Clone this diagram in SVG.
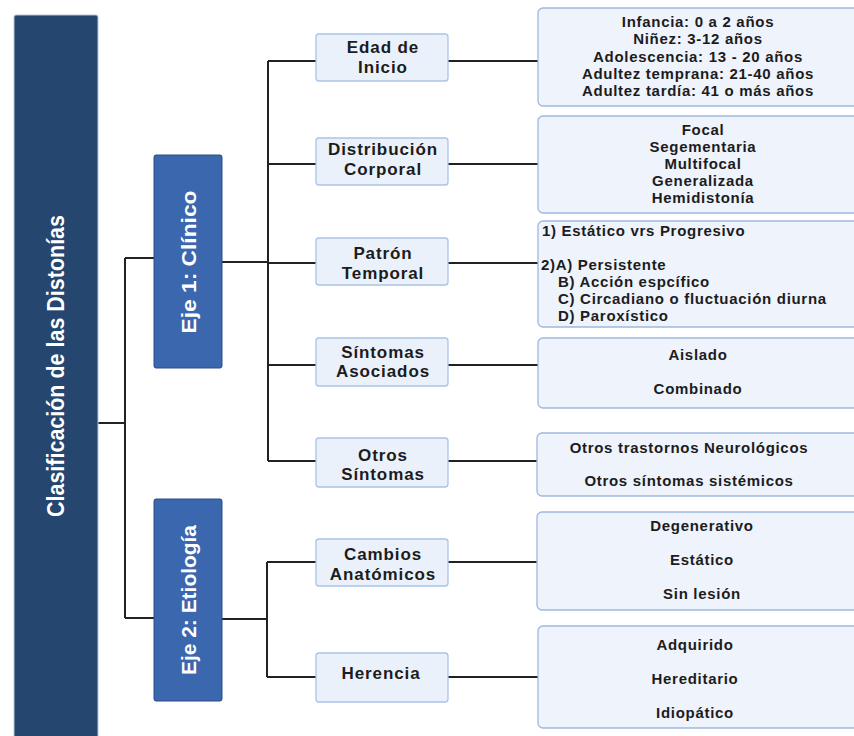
<svg xmlns="http://www.w3.org/2000/svg" width="854" height="736" viewBox="0 0 854 736">
<style>
.mid rect{fill:#EAF1FB;stroke:#A9C3E8;stroke-width:1.3}
.leaf rect{fill:#EEF3FC;stroke:#9FB8E0;stroke-width:1.3}
text{font-family:"Liberation Sans",Arial,sans-serif;font-weight:bold;fill:#1c1c1c}
.mid text{font-size:17px;letter-spacing:0.9px;text-anchor:middle}
.leaf text{font-size:15px;letter-spacing:0.7px;text-anchor:middle}
.leaf text.l{text-anchor:start}
.rot{fill:#fff;text-anchor:middle;dominant-baseline:central}
#conn path{fill:none;stroke:#222;stroke-width:2}
</style>
<rect width="854" height="736" fill="#fff"/>
<g id="conn">
<path d="M98 423H125M125 258V618M125 258H154M125 618H154"/>
<path d="M222 262H268M268 61V461M268 61H316M268 164H316M268 263H316M268 365H316M268 461H316"/>
<path d="M222 619H267M267 562V677M267 562H316M267 677H316"/>
<path d="M448 61H538M448 164H538M448 263H538M448 365H538M448 461H538M448 562H538M448 677H538"/>
</g>
<g id="root">
<rect x="14" y="15" width="84" height="730" rx="2" fill="#24466F" stroke="#B9C6D8" stroke-width="1"/>
<text class="rot" transform="translate(56 366) rotate(-90)" font-size="23" textLength="302" lengthAdjust="spacingAndGlyphs">Clasificación de las Distonías</text>
</g>
<g id="eje1">
<rect x="154" y="155" width="68" height="213" rx="2" fill="#3A67AE" stroke="#2A4E86" stroke-width="1"/>
<text class="rot" transform="translate(188 262) rotate(-90)" font-size="21" textLength="143" lengthAdjust="spacingAndGlyphs">Eje 1: Clínico</text>
</g>
<g id="eje2">
<rect x="154" y="499" width="68" height="202" rx="2" fill="#3A67AE" stroke="#2A4E86" stroke-width="1"/>
<text class="rot" transform="translate(188 600) rotate(-90)" font-size="21" textLength="150" lengthAdjust="spacingAndGlyphs">Eje 2: Etiología</text>
</g>
<g id="edad" class="mid"><rect x="316" y="34" width="132" height="47" rx="3"/><text x="383" y="53">Edad de</text><text x="383" y="73">Inicio</text></g>
<g id="distribucion" class="mid"><rect x="316" y="138" width="132" height="47" rx="3"/><text x="383" y="155">Distribución</text><text x="383" y="175">Corporal</text></g>
<g id="patron" class="mid"><rect x="316" y="238" width="132" height="47" rx="3"/><text x="383" y="259">Patrón</text><text x="383" y="279">Temporal</text></g>
<g id="sintomas" class="mid"><rect x="316" y="338" width="132" height="48" rx="3"/><text x="383" y="358">Síntomas</text><text x="383" y="377">Asociados</text></g>
<g id="otros" class="mid"><rect x="316" y="438" width="132" height="49" rx="3"/><text x="383" y="461">Otros</text><text x="383" y="480">Síntomas</text></g>
<g id="cambios" class="mid"><rect x="316" y="539" width="132" height="47" rx="3"/><text x="383" y="560">Cambios</text><text x="383" y="580">Anatómicos</text></g>
<g id="herencia" class="mid"><rect x="316" y="653" width="132" height="49" rx="3"/><text x="381" y="679">Herencia</text></g>
<g id="leaf-edad" class="leaf"><rect x="538" y="8" width="330" height="98" rx="5"/>
<text x="698" y="27">Infancia: 0 a 2 años</text><text x="698" y="44">Niñez: 3-12 años</text><text x="698" y="62">Adolescencia: 13 - 20 años</text><text x="698" y="79">Adultez temprana: 21-40 años</text><text x="698" y="96">Adultez tardía: 41 o más años</text></g>
<g id="leaf-dist" class="leaf"><rect x="538" y="116" width="330" height="97" rx="5"/>
<text x="703" y="135">Focal</text><text x="703" y="152">Segementaria</text><text x="703" y="169">Multifocal</text><text x="703" y="186">Generalizada</text><text x="703" y="203">Hemidistonía</text></g>
<g id="leaf-patron" class="leaf"><rect x="538" y="221" width="330" height="106" rx="5"/>
<text class="l" x="542" y="236">1) Estático vrs Progresivo</text><text class="l" x="541" y="270">2)A) Persistente</text><text class="l" x="558" y="287">B) Acción espcífico</text><text class="l" x="558" y="304">C) Circadiano o fluctuación diurna</text><text class="l" x="558" y="321">D) Paroxístico</text></g>
<g id="leaf-sint" class="leaf"><rect x="538" y="338" width="330" height="70" rx="5"/>
<text x="698" y="360">Aislado</text><text x="698" y="394">Combinado</text></g>
<g id="leaf-otros" class="leaf"><rect x="537" y="433" width="330" height="63" rx="5"/>
<text x="689" y="453">Otros trastornos Neurológicos</text><text x="689" y="486">Otros síntomas sistémicos</text></g>
<g id="leaf-cambios" class="leaf"><rect x="537" y="512" width="330" height="98" rx="5"/>
<text x="702" y="531">Degenerativo</text><text x="702" y="565">Estático</text><text x="702" y="599">Sin lesión</text></g>
<g id="leaf-herencia" class="leaf"><rect x="538" y="626" width="330" height="102" rx="5"/>
<text x="695" y="650">Adquirido</text><text x="695" y="684">Hereditario</text><text x="695" y="718">Idiopático</text></g>
</svg>
